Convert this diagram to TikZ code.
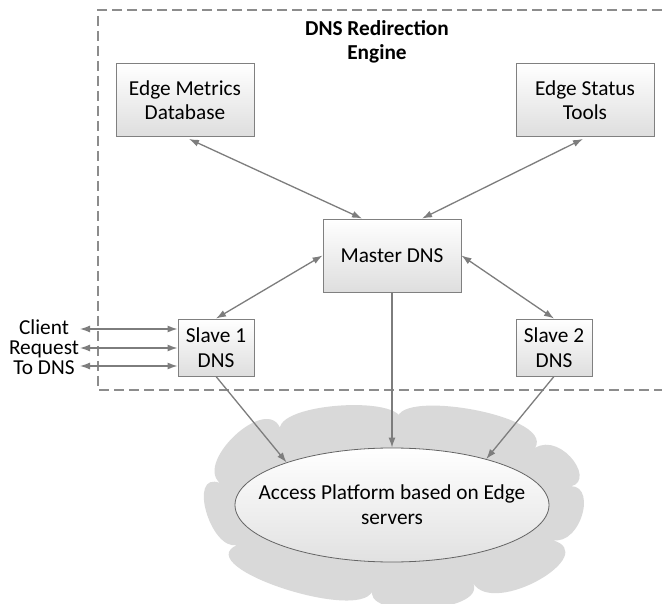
\documentclass[tikz,border=0pt]{standalone}
\usepackage{fontspec}
\setmainfont{Carlito}
\usetikzlibrary{arrows.meta,shapes.geometric,calc}
\definecolor{boxline}{RGB}{128,128,128}
\definecolor{boxbot}{RGB}{222,222,222}
\definecolor{arrowgray}{RGB}{125,125,125}
\definecolor{dashgray}{RGB}{140,140,140}
\definecolor{cloudgray}{RGB}{217,217,217}
\definecolor{ellline}{RGB}{100,100,100}
\begin{document}
\begin{tikzpicture}[x=1pt,y=-1pt,
  box/.style={draw=boxline, line width=0.9pt, top color=white, bottom color=boxbot,
    align=center, font=\fontsize{21.3}{24.5}\selectfont, inner sep=0pt},
  conn/.style={draw=arrowgray, line width=1.3pt, -{Latex[length=10pt,width=7pt]}},
  bidir/.style={draw=arrowgray, line width=1.3pt, {Latex[length=10pt,width=7pt]}-{Latex[length=10pt,width=7pt]}},
]
\fill[white] (0,0) rectangle (662,604);
\useasboundingbox (0,0) rectangle (662,604);

% dashed engine frame
\draw[dashgray, line width=1.5pt, dash pattern=on 10pt off 5pt]
  (662,10) -- (98,10) -- (98,390) -- (662,390);

% cloud
\begin{scope}
\clip (0,0) rectangle (662,604);
\fill[cloudgray]
  (220,483) .. controls (192.8,460.9) and (274.8,386.7) .. (282,435)
  .. controls (259.7,402.5) and (418.3,392.1) .. (400,426)
  .. controls (375,384.7) and (557,413.3) .. (535,448)
  .. controls (562.2,430.8) and (601.2,486.8) .. (565,487)
  .. controls (599.3,477.7) and (582.3,546.7) .. (552,540)
  .. controls (602.9,553.9) and (493.7,617.7) .. (473,583)
  .. controls (488,613.6) and (358,620) .. (373,588)
  .. controls (370,626) and (188,567.5) .. (237,545)
  .. controls (210.4,551) and (187,470.4) .. (220,483) -- cycle;
\end{scope}

% title
\node[font=\bfseries\fontsize{21.3}{24.5}\selectfont, align=center] (title) at (377,42)
  {DNS Redirection\\Engine};

% boxes
\node[box, minimum width=138pt, minimum height=73pt] (metrics) at (185,100) {Edge Metrics\\Database};
\node[box, minimum width=138pt, minimum height=73pt] (status) at (585,100) {Edge Status\\Tools};
\node[box, minimum width=138pt, minimum height=73pt] (master) at (392,255.5) {Master DNS};
\node[box, minimum width=76pt, minimum height=57pt] (slave1) at (216,347.5) {Slave 1\\DNS};
\node[box, minimum width=76pt, minimum height=57pt] (slave2) at (554,347.5) {Slave 2\\DNS};

% access platform
\node[ellipse, draw=ellline, line width=0.8pt, top color=white, bottom color=boxbot!90,
  minimum width=314pt, minimum height=114pt, inner sep=0pt] (acc) at (392,505) {};
\node[align=center, font=\fontsize{21.3}{25}\selectfont, inner sep=0pt] (acctext) at (acc.center)
  {Access Platform based on Edge\\servers};

% client label
\node[align=center, font=\fontsize{21.3}{20}\selectfont, inner sep=0pt] (client) at (44,347)
  {Client\\Request\\To DNS};
\coordinate (c1) at (80,329);
\coordinate (c2) at (80,348);
\coordinate (c3) at (80,366);

% connectors
\draw[bidir] ($(metrics.south)+(4,2)$) -- ($(master.north)+(-30,0)$);
\draw[bidir] ($(status.south)+(-2,2)$) -- ($(master.north)+(30,0)$);
\draw[bidir] (master.west) -- (slave1.north);
\draw[bidir] (master.east) -- (slave2.north);
\draw[bidir] (c1) -- (slave1.west |- c1);
\draw[bidir] (c2) -- (slave1.west |- c2);
\draw[bidir] (c3) -- (slave1.west |- c3);
\draw[conn] (slave1.south) -- (acc.158);
\draw[conn] (master.south) -- (acc.north);
\draw[conn] (slave2.south) -- (acc.26);
\end{tikzpicture}
\end{document}
